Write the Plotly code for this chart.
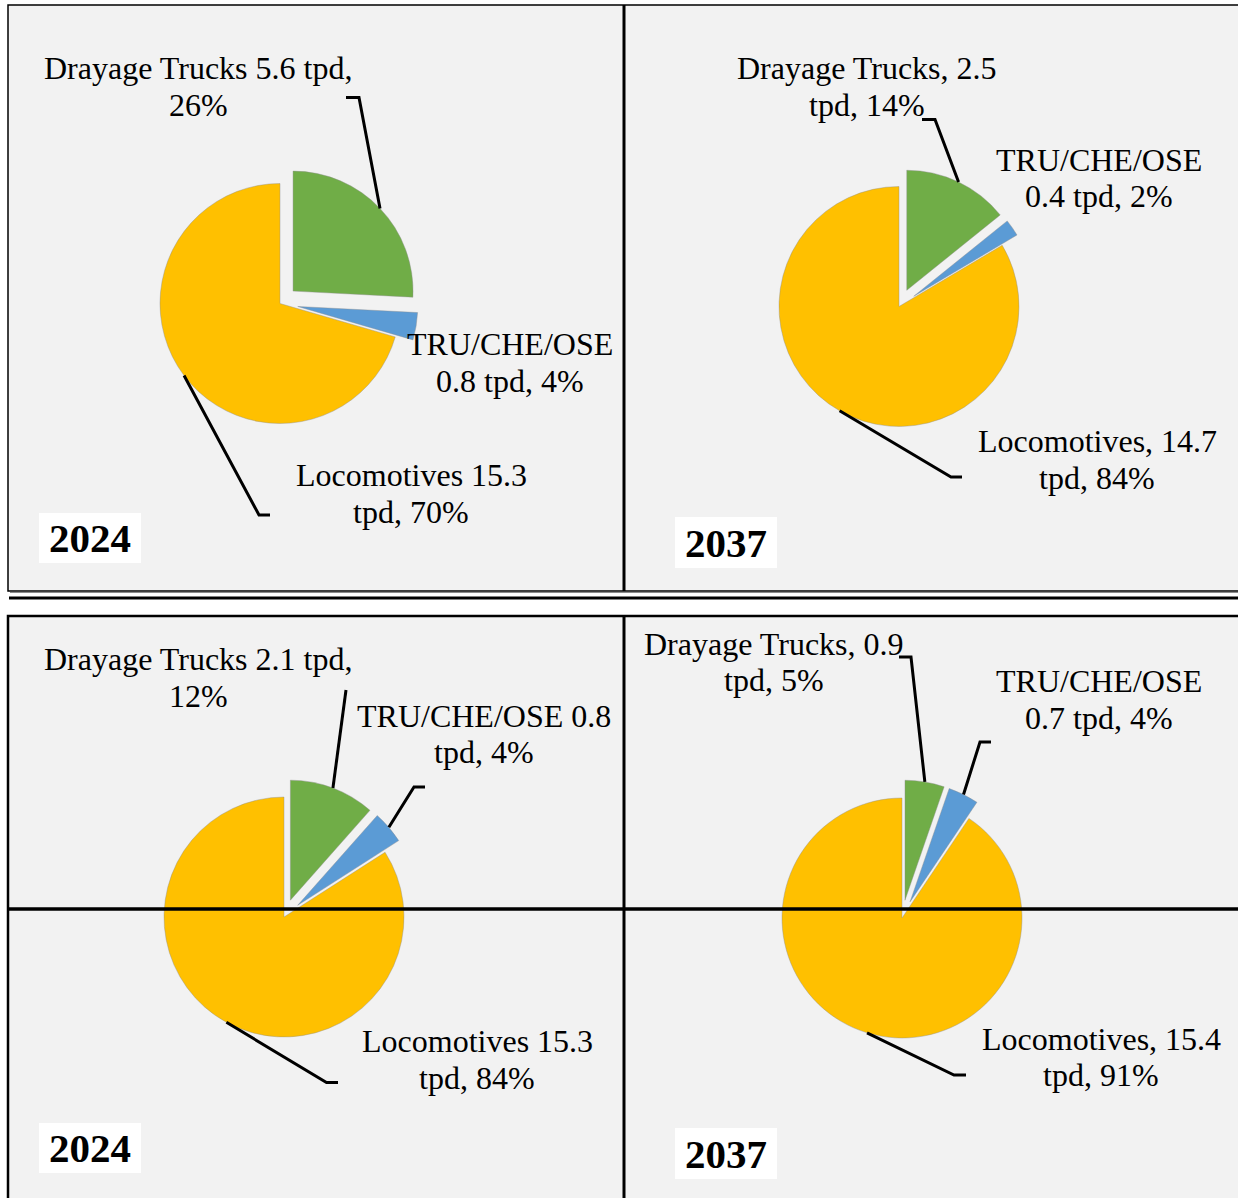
import math
import plotly.graph_objects as go

W, H = 1238, 1198

categories = ["Drayage Trucks", "TRU/CHE/OSE", "Locomotives"]
years = ["2024", "2037", "2024", "2037"]

tpd_top_2024 = [5.6, 0.8, 15.3]
tpd_top_2037 = [2.5, 0.4, 14.7]
tpd_bottom_2024 = [2.1, 0.8, 15.3]
tpd_bottom_2037 = [0.9, 0.7, 15.4]

labels_top_2024 = [["Drayage Trucks 5.6 tpd,", "26%"], ["TRU/CHE/OSE", "0.8 tpd, 4%"],
                   ["Locomotives 15.3", "tpd, 70%"]]
labels_top_2037 = [["Drayage Trucks, 2.5", "tpd, 14%"], ["TRU/CHE/OSE", "0.4 tpd, 2%"],
                   ["Locomotives, 14.7", "tpd, 84%"]]
labels_bottom_2024 = [["Drayage Trucks 2.1 tpd,", "12%"], ["TRU/CHE/OSE 0.8", "tpd, 4%"],
                      ["Locomotives 15.3", "tpd, 84%"]]
labels_bottom_2037 = [["Drayage Trucks, 0.9", "tpd, 5%"], ["TRU/CHE/OSE", "0.7 tpd, 4%"],
                      ["Locomotives, 15.4", "tpd, 91%"]]

colors = ["#70AD47", "#5B9BD5", "#FFC000"]
pull = [0.15, 0.15, 0]
R = 120
FONT = "Liberation Serif"
FS = 32
LINE_GAP = 36.5


def px(x):
    return x / W


def py(y):
    return 1 - y / H


# pixel layout of each panel: pie centre, label anchors (centre x, first baseline),
# leader elbows (elbow, end) per slice, year box
panels = [
    dict(values=tpd_top_2024, labels=labels_top_2024, year=years[0], center=(280, 303.5),
         label_pos=[(198, 79), (510, 355), (411, 486)],
         leaders=[((359, 97.5), (346, 97.5)), None, ((259, 515), (270, 515))],
         box=(39, 513, 141, 563)),
    dict(values=tpd_top_2037, labels=labels_top_2037, year=years[1], center=(899, 306.5),
         label_pos=[(867, 79), (1099, 170.5), (1097, 452)],
         leaders=[((935, 119.5), (922, 119.5)), None, ((951, 477), (962, 477))],
         box=(675, 517, 777, 568)),
    dict(values=tpd_bottom_2024, labels=labels_bottom_2024, year=years[2], center=(284, 917),
         label_pos=[(198, 670), (484, 726.5), (477, 1052)],
         leaders=[((346, 690), None), ((414, 787), (425, 787)), ((326.5, 1082.5), (338, 1082.5))],
         box=(39, 1123, 141, 1173)),
    dict(values=tpd_bottom_2037, labels=labels_bottom_2037, year=years[3], center=(902, 918),
         label_pos=[(774, 654.5), (1099, 692), (1101, 1049.5)],
         leaders=[((911, 657), (899, 657)), ((980, 742), (991, 742)), ((954, 1075), (966, 1075))],
         box=(675, 1128, 777, 1179)),
]


def rim_point(values, i, cx, cy):
    total = sum(values)
    start = sum(values[:i]) / total * 360
    mid = math.radians(start + values[i] / total * 180)
    d = R * pull[i]
    ox, oy = cx + d * math.sin(mid), cy - d * math.cos(mid)
    return ox + R * math.sin(mid), oy - R * math.cos(mid)


fig = go.Figure()
shapes = []
annotations = []

# panel frames
shapes.append(dict(type="rect", xref="paper", yref="paper", layer="below",
                   x0=px(8), x1=px(1242), y0=py(5), y1=py(591),
                   fillcolor="#F2F2F2", line=dict(color="black", width=1.5)))
shapes.append(dict(type="rect", xref="paper", yref="paper", layer="below",
                   x0=px(8), x1=px(1242), y0=py(616), y1=py(1202),
                   fillcolor="#F2F2F2", line=dict(color="black", width=2.5)))
for (x0, y0, x1, y1, w) in [(624, 5, 624, 591, 3), (624, 616, 624, 1198, 3),
                            (9, 598, 1238, 598, 3), (8, 909, 1238, 909, 3.5),
                            (10, 592.5, 1238, 592.5, 1)]:
    shapes.append(dict(type="line", xref="paper", yref="paper", layer="above",
                       x0=px(x0), x1=px(x1), y0=py(y0), y1=py(y1),
                       line=dict(color="black" if w > 1 else "#8C8C8C", width=w)))

half = R * (1 + max(pull))
for p in panels:
    cx, cy = p["center"]
    fig.add_trace(go.Pie(
        labels=categories, values=p["values"], sort=False, direction="clockwise",
        rotation=0, pull=pull, textinfo="none", hoverinfo="label+value+percent",
        marker=dict(colors=colors, line=dict(color="rgba(140,140,140,0.5)", width=0.8)),
        domain=dict(x=[px(cx - half), px(cx + half)], y=[py(cy + half), py(cy - half)]),
        showlegend=False, name=p["year"]))

    for i, lines in enumerate(p["labels"]):
        lx, ly = p["label_pos"][i]
        for k, line in enumerate(lines):
            annotations.append(dict(
                x=px(lx), y=py(ly + k * LINE_GAP - 0.34 * FS), xref="paper", yref="paper",
                text=line, showarrow=False, xanchor="center", yanchor="middle",
                font=dict(family=FONT, size=FS, color="black")))

    for i, ld in enumerate(p["leaders"]):
        if ld is None:
            continue
        sx, sy = rim_point(p["values"], i, cx, cy)
        (ex, ey), end = ld
        path = f"M {px(sx)} {py(sy)} L {px(ex)} {py(ey)}"
        if end is not None:
            path += f" L {px(end[0])} {py(end[1])}"
        shapes.append(dict(type="path", xref="paper", yref="paper", path=path,
                           line=dict(color="black", width=3)))

    bx0, by0, bx1, by1 = p["box"]
    shapes.append(dict(type="rect", xref="paper", yref="paper", layer="above",
                       x0=px(bx0), x1=px(bx1), y0=py(by1), y1=py(by0),
                       fillcolor="white", line=dict(width=0)))
    annotations.append(dict(
        x=px((bx0 + bx1) / 2), y=py((by0 + by1) / 2), xref="paper", yref="paper",
        text="<b>" + p["year"] + "</b>", showarrow=False, xanchor="center", yanchor="middle",
        font=dict(family=FONT, size=41, color="black")))

fig.update_layout(
    width=W, height=H, margin=dict(l=0, r=0, t=0, b=0),
    paper_bgcolor="white", plot_bgcolor="white",
    shapes=shapes, annotations=annotations, showlegend=False,
)

# page body has a default 8px margin, drop it so the figure sits at the window origin
fig.write_html("out.html", config={"displayModeBar": False},
               post_script="document.body.style.margin='0px';")
